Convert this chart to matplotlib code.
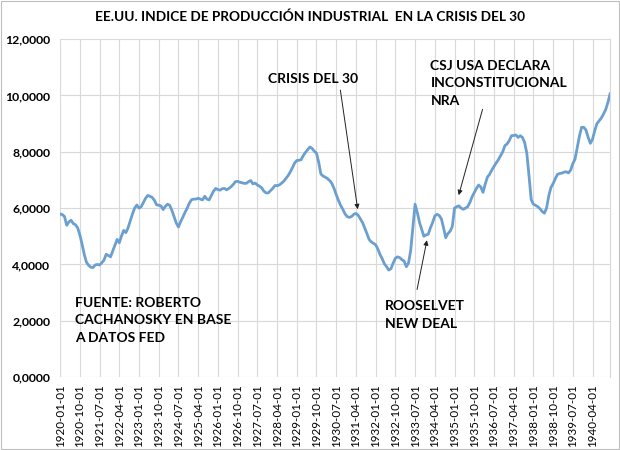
import numpy as np
import pandas as pd
import matplotlib.pyplot as plt
from matplotlib.ticker import FuncFormatter
from matplotlib.patches import Rectangle

plt.switch_backend('agg')
plt.rcParams['font.family'] = ['Lato', 'DejaVu Sans']

START = '1920-01-01'

# indice mensual, un renglon por anio (1920 ... 1940)
y1920 = [5.79, 5.77, 5.70, 5.39, 5.51, 5.57, 5.45, 5.41, 5.30, 5.05, 4.72, 4.36]
y1921 = [4.08, 3.97, 3.90, 3.89, 3.98, 4.00, 3.98, 4.06, 4.15, 4.36, 4.32, 4.27]
y1922 = [4.48, 4.68, 4.89, 4.77, 5.01, 5.21, 5.13, 5.30, 5.55, 5.79, 6.00, 6.11]
y1923 = [6.00, 6.05, 6.20, 6.35, 6.45, 6.42, 6.38, 6.28, 6.12, 6.10, 6.08, 5.95]
y1924 = [6.06, 6.14, 6.10, 5.92, 5.70, 5.47, 5.33, 5.52, 5.68, 5.85, 6.00, 6.18]
y1925 = [6.30, 6.32, 6.32, 6.35, 6.32, 6.29, 6.42, 6.32, 6.29, 6.45, 6.60, 6.70]
y1926 = [6.66, 6.64, 6.69, 6.70, 6.65, 6.70, 6.76, 6.84, 6.94, 6.95, 6.92, 6.90]
y1927 = [6.88, 6.88, 6.94, 6.98, 6.86, 6.89, 6.82, 6.78, 6.72, 6.60, 6.54, 6.54]
y1928 = [6.62, 6.70, 6.80, 6.80, 6.82, 6.88, 6.95, 7.05, 7.15, 7.28, 7.43, 7.60]
y1929 = [7.69, 7.70, 7.72, 7.87, 7.98, 8.08, 8.17, 8.12, 8.02, 7.95, 7.63, 7.21]
y1930 = [7.14, 7.10, 7.05, 6.98, 6.88, 6.70, 6.48, 6.28, 6.10, 5.96, 5.80, 5.70]
y1931 = [5.67, 5.70, 5.78, 5.81, 5.75, 5.62, 5.49, 5.30, 5.10, 4.89, 4.80, 4.75]
y1932 = [4.70, 4.55, 4.35, 4.20, 4.02, 3.92, 3.80, 3.85, 4.05, 4.22, 4.27, 4.24]
y1933 = [4.17, 4.12, 3.92, 4.05, 4.50, 5.30, 6.14, 5.85, 5.50, 5.25, 5.00, 5.05]
y1934 = [5.07, 5.30, 5.49, 5.72, 5.78, 5.74, 5.62, 5.30, 4.95, 5.10, 5.18, 5.35]
y1935 = [6.00, 6.05, 6.08, 6.00, 5.96, 6.00, 6.05, 6.20, 6.40, 6.55, 6.70, 6.82]
y1936 = [6.75, 6.56, 6.85, 7.10, 7.20, 7.35, 7.48, 7.60, 7.72, 7.86, 8.00, 8.22]
y1937 = [8.28, 8.40, 8.57, 8.58, 8.60, 8.51, 8.57, 8.51, 8.33, 7.95, 7.15, 6.30]
y1938 = [6.14, 6.10, 6.05, 5.98, 5.88, 5.82, 6.00, 6.43, 6.73, 6.87, 7.05, 7.20]
y1939 = [7.23, 7.24, 7.28, 7.29, 7.25, 7.35, 7.58, 7.74, 8.15, 8.55, 8.87, 8.87]
y1940 = [8.77, 8.51, 8.30, 8.45, 8.75, 9.00, 9.10, 9.20, 9.34, 9.50, 9.75, 10.06]

values = np.array(y1920 + y1921 + y1922 + y1923 + y1924 + y1925 + y1926 +
                  y1927 + y1928 + y1929 + y1930 + y1931 + y1932 + y1933 +
                  y1934 + y1935 + y1936 + y1937 + y1938 + y1939 + y1940)
dates = pd.date_range(START, periods=len(values), freq='MS')
labels = [d.strftime('%Y-%m-%d') for d in dates]

TITLE = 'EE.UU. INDICE DE PRODUCCIÓN INDUSTRIAL  EN LA CRISIS DEL 30'
GRID = '#d9d9d9'
BLUE = '#6a9fd0'


def main():
    fig = plt.figure(figsize=(6.2, 4.5), dpi=100)
    ax = fig.add_axes([0.097, 0.162, 0.887, 0.751])
    x = np.arange(len(values))

    ax.plot(x, values, color=BLUE, lw=2.0, solid_joinstyle='round', zorder=3)

    ax.set_xlim(0, len(values) - 1)
    ax.set_ylim(0, 12)
    ax.set_yticks(np.arange(0, 12.1, 2))
    ax.yaxis.set_major_formatter(FuncFormatter(lambda v, p: f'{v:.4f}'.replace('.', ',')))
    ticks = x[::9]
    ax.set_xticks(ticks)
    ax.set_xticklabels([labels[i] for i in ticks], rotation=90, fontsize=8.4)
    for t in ax.get_yticklabels():
        t.set_fontsize(8.8)
        t.set_fontweight('bold')
    ax.tick_params(axis='x', length=0, pad=5)
    ax.tick_params(axis='y', length=0, pad=7)
    ax.grid(True, color=GRID, lw=0.8)
    ax.set_axisbelow(True)
    for s in ['top', 'left', 'bottom']:
        ax.spines[s].set_visible(False)
    ax.spines['right'].set_color(GRID)

    fig.text(0.5, 0.962, TITLE, ha='center', va='center', fontsize=9.8, fontweight='bold')

    bold = dict(fontsize=10, fontweight='bold', linespacing=1.55)
    arrow = dict(arrowstyle='-|>', color='#222222', lw=0.7, mutation_scale=7,
                 shrinkA=0, shrinkB=0)
    ax.text(115.5, 10.6, 'CRISIS DEL 30', ha='center', va='center', **bold)
    ax.annotate('', xy=(135.8, 5.96), xytext=(127.9, 10.19), arrowprops=arrow)
    ax.text(169, 10.44, 'CSJ USA DECLARA\nINCONSTITUCIONAL\nNRA', ha='left', va='center', **bold)
    ax.annotate('', xy=(181.9, 6.46), xytext=(192.8, 9.51), arrowprops=arrow)
    ax.text(148.4, 2.2, 'ROOSELVET\nNEW DEAL', ha='left', va='center', **bold)
    ax.annotate('', xy=(167.4, 4.86), xytext=(162.9, 3.11), arrowprops=arrow)
    ax.text(6.8, 2.02, 'FUENTE: ROBERTO\nCACHANOSKY EN BASE\nA DATOS FED', ha='left', va='center', **bold)

    fig.patches.append(Rectangle((0.002, 0.002), 0.996, 0.996, transform=fig.transFigure,
                                 fill=False, ec='#bfbfbf', lw=0.8))
    fig.savefig('out.png', dpi=100)


if __name__ == '__main__':
    main()
